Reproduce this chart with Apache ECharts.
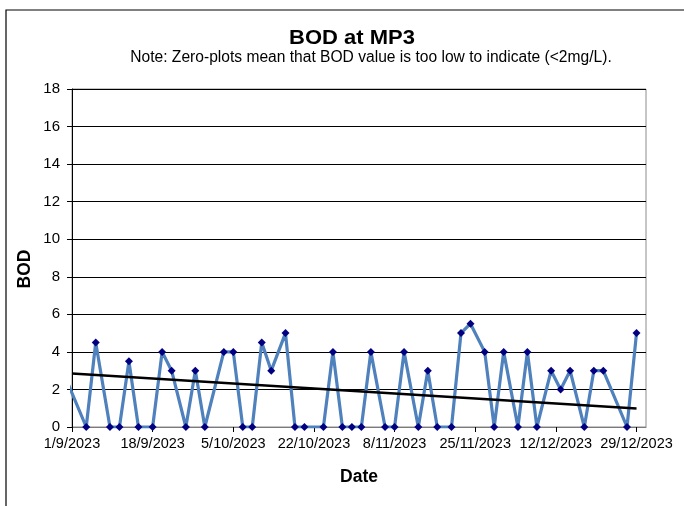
<!DOCTYPE html>
<html>
<head>
<meta charset="utf-8">
<script src="https://cdn.jsdelivr.net/npm/echarts@6/dist/echarts.min.js"></script>
<style>html,body{margin:0;padding:0;background:#fff}#c{width:684px;height:506px}</style>
</head>
<body>
<div id="c"></div>
<script>
// ---- data ----
var sampleDates = ['2023-08-30','2023-09-04','2023-09-06','2023-09-09','2023-09-11','2023-09-13','2023-09-15','2023-09-18','2023-09-20','2023-09-22','2023-09-25','2023-09-27','2023-09-29','2023-10-03','2023-10-05','2023-10-07','2023-10-09','2023-10-11','2023-10-13','2023-10-16','2023-10-18','2023-10-20','2023-10-24','2023-10-26','2023-10-28','2023-10-30','2023-11-01','2023-11-03','2023-11-06','2023-11-08','2023-11-10','2023-11-13','2023-11-15','2023-11-17','2023-11-20','2023-11-22','2023-11-24','2023-11-27','2023-11-29','2023-12-01','2023-12-04','2023-12-06','2023-12-08','2023-12-11','2023-12-13','2023-12-15','2023-12-18','2023-12-20','2023-12-22','2023-12-27','2023-12-29'];
var bodValues = [3,0,4.5,0,0,3.5,0,0,4,3,0,3,0,4,4,0,0,4.5,3,5,0,0,0,4,0,0,0,4,0,0,4,0,3,0,0,5,5.5,4,0,4,0,4,0,3,2,3,0,3,3,0,5];
var trendDates = ['2023-09-01','2023-12-29'];
var trendValues = [2.85, 0.98];
var tickDates = ['2023-09-01','2023-09-18','2023-10-05','2023-10-22','2023-11-08','2023-11-25','2023-12-12','2023-12-29'];
var axisStart = '2023-09-01';
var axisEnd = '2023-12-31';
var titleText = 'BOD at MP3';
var subtitleText = 'Note: Zero-plots mean that BOD value is too low to indicate (<2mg/L).';
var xName = 'Date';
var yName = 'BOD';

function dayNum(s){var p=s.split('-');return Math.round((Date.UTC(+p[0],+p[1]-1,+p[2])-Date.UTC(2023,8,1))/86400000);}
function fmt(d){var t=new Date(Date.UTC(2023,8,1)+Math.round(d)*86400000);return t.getUTCDate()+'/'+(t.getUTCMonth()+1)+'/'+t.getUTCFullYear();}

var bodData = sampleDates.map(function(d,i){return [dayNum(d), bodValues[i]];});
var trendData = trendDates.map(function(d,i){return [dayNum(d), trendValues[i]];});
var tickVals = tickDates.map(dayNum);

var font = 'Liberation Sans, Arial, sans-serif';
var chart = echarts.init(document.getElementById('c'));
chart.setOption({
  animation:false,
  backgroundColor:'#fff',
  grid:{left:72, top:89, right:38, bottom:79, show:true, borderColor:'#8c8c8c', borderWidth:1, containLabel:false},
  graphic:[
    {type:'rect', shape:{x:6,y:10,width:720,height:540}, style:{fill:'none', stroke:'#000', lineWidth:1.2}, silent:true},
    {type:'text', x:352, y:38, scaleX:1.1, style:{text:titleText, font:'bold 20px '+font, fill:'#000', align:'center', verticalAlign:'middle'}},
    {type:'text', x:371, y:57.5, style:{text:subtitleText, font:'15.6px '+font, fill:'#000', align:'center', verticalAlign:'middle'}},
    {type:'text', x:25, y:269, rotation:Math.PI/2, style:{text:yName, font:'bold 17.5px '+font, fill:'#000', align:'center', verticalAlign:'middle'}}
  ],
  xAxis:{
    type:'value', min:dayNum(axisStart), max:dayNum(axisEnd),
    name:xName, nameLocation:'middle', nameGap:41,
    nameTextStyle:{fontFamily:font, fontWeight:'bold', fontSize:17.5, color:'#000'},
    axisLine:{show:true, lineStyle:{color:'#7a7a7a', width:1}},
    axisTick:{show:true, length:5, lineStyle:{color:'#000'}, customValues:tickVals},
    axisLabel:{customValues:tickVals, formatter:function(v){return fmt(v);}, fontFamily:font, fontSize:14.5, color:'#000', margin:9},
    splitLine:{show:false}
  },
  yAxis:{
    type:'value', min:0, max:18, interval:2,
    axisLine:{show:true, lineStyle:{color:'#000', width:1}},
    axisTick:{show:true, inside:false, length:5, lineStyle:{color:'#000'}},
    axisLabel:{fontFamily:font, fontSize:15, color:'#000', margin:12},
    splitLine:{show:true, lineStyle:{color:'#000', width:1}}
  },
  series:[
    {type:'line', data:bodData, clip:true, symbol:'diamond', symbolSize:8, showAllSymbol:true,
     lineStyle:{color:'#4f81bd', width:3.2}, itemStyle:{color:'#000080', borderWidth:0}, z:2},
    {type:'line', data:trendData, symbol:'none', lineStyle:{color:'#000', width:2.5}, z:3}
  ]
});
</script>
</body>
</html>
